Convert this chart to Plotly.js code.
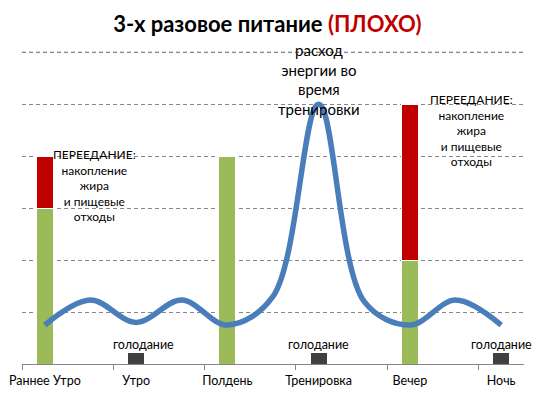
<!DOCTYPE html>
<html>
<head>
<meta charset="utf-8">
<script src="https://cdn.plot.ly/plotly-3.0.1.min.js"></script>
<style>html,body{margin:0;padding:0;background:#fff}#chart{width:538px;height:397px}</style>
</head>
<body>
<div id="chart"></div>
<script>
// Time-slot axis: 11 slots, labels on every other slot
const slots = [0, 1, 2, 3, 4, 5, 6, 7, 8, 9, 10];
const categories = ['Раннее Утро', 'Утро', 'Полдень', 'Тренировка', 'Вечер', 'Ночь'];
const categorySlots = [0, 2, 4, 6, 8, 10];
const tickBoundaries = [-0.5, 1.5, 3.5, 5.5, 7.5, 9.5];
const gridLevels = [1, 2, 3, 4, 5, 6];

// Energy expenditure curve
const energy = [0.75, 1.23, 0.8, 1.23, 0.75, 1.3, 5.0, 1.2, 0.75, 1.23, 0.75];

// Meals
const mealSlots = [0, 4, 8];
const mealUsed = [3, 4, 2];      // green part
const mealExcess = [1, 0, 3];    // red part (overeating)

// Fasting
const fastSlots = [2, 6, 10];
const fastValues = [0.23, 0.23, 0.23];
const fastLabel = 'голодание';

const FONT = 'Lato, "Open Sans", sans-serif';
const GRID = '#868686';
const DASH = '4px,3px';

const traces = [
  {type: 'bar', x: mealSlots, y: mealUsed, width: 0.37,
   marker: {color: '#9BBB59', line: {color: '#ffffff', width: 1}}, hoverinfo: 'skip'},
  {type: 'bar', x: mealSlots, y: mealExcess, width: 0.37,
   marker: {color: '#C00000', line: {color: '#ffffff', width: 1}}, hoverinfo: 'skip'},
  {type: 'bar', x: fastSlots, y: fastValues, width: 0.37,
   marker: {color: '#404040', line: {color: '#ffffff', width: 1}}, hoverinfo: 'skip'},
  {type: 'scatter', mode: 'lines', x: slots, y: energy,
   line: {color: '#4A7EBB', width: 5.5, shape: 'spline', smoothing: 1}, hoverinfo: 'skip'}
];

const annotations = [
  {x: 6, y: 5.48, xref: 'x', yref: 'y', showarrow: false,
   text: 'расход<br>энергии во<br>время<br>тренировки',
   font: {family: FONT, size: 15, color: '#000'}, align: 'center'},
  {x: 1.08, y: 3.44, xref: 'x', yref: 'y', showarrow: false,
   text: 'ПЕРЕЕДАНИЕ:<br>накопление<br>жира<br>и пищевые<br>отходы',
   font: {family: FONT, size: 12, color: '#000'}, align: 'center'},
  {x: 9.34, y: 4.5, xref: 'x', yref: 'y', showarrow: false,
   text: 'ПЕРЕЕДАНИЕ:<br>накопление<br>жира<br>и пищевые<br>отходы',
   font: {family: FONT, size: 12, color: '#000'}, align: 'center'}
];
fastSlots.forEach((s, i) => {
  annotations.push({x: s + (i === 0 ? 0.17 : 0), y: fastValues[i] + 0.14, xref: 'x', yref: 'y',
    showarrow: false, text: fastLabel, yanchor: 'middle',
    font: {family: FONT, size: 12.5, color: '#000'}});
});

// top gridline (Plotly omits it), drawn as a layout shape at the highest grid level
const topLevel = gridLevels[gridLevels.length - 1];
const shapes = [{
  type: 'line', layer: 'below', xref: 'paper', x0: 0, x1: 1, yref: 'y', y0: topLevel, y1: topLevel,
  line: {color: GRID, width: 1, dash: DASH}
}];

const layout = {
  width: 538, height: 397,
  margin: {l: 22, r: 14, t: 47, b: 33},
  paper_bgcolor: '#fff', plot_bgcolor: '#fff',
  showlegend: false,
  barmode: 'stack',
  title: {
    text: '<b>3-х разовое питание <span style="color:#C00000">(ПЛОХО)</span></b>',
    font: {family: FONT, size: 22, color: '#000'},
    x: 0.497, xref: 'container', xanchor: 'center',
    y: 1 - 24 / 397, yref: 'container', yanchor: 'middle'
  },
  xaxis: {
    range: [-0.5, 10.5], fixedrange: true,
    tickvals: categorySlots, ticktext: categories, ticks: '',
    tickfont: {family: FONT, size: 12.5, color: '#000'},
    ticklabelstandoff: 5,
    showgrid: false, zeroline: false,
    showline: true, linecolor: GRID, linewidth: 1,
    minor: {tickvals: tickBoundaries, ticks: 'outside', ticklen: 5, tickcolor: GRID, tickwidth: 1, showgrid: false}
  },
  yaxis: {
    range: [0, 6.1], fixedrange: true, tickmode: 'array', tickvals: gridLevels,
    showticklabels: false, ticks: '',
    showgrid: true, gridcolor: GRID, gridwidth: 1, griddash: DASH,
    zeroline: false, showline: false
  },
  shapes: shapes,
  annotations: annotations
};

Plotly.newPlot('chart', traces, layout, {displayModeBar: false, staticPlot: true});
</script>
</body>
</html>
